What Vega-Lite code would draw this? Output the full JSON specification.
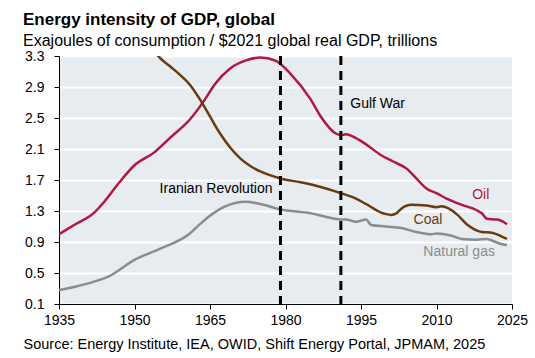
{
  "$schema": "https://vega.github.io/schema/vega-lite/v6.json",
  "autosize": {"type": "none"},
  "width": 453,
  "height": 248,
  "padding": {"left": 59, "top": 56, "right": 23, "bottom": 54},
  "background": "white",
  "config": {
    "font": "Liberation Sans",
    "view": {"fill": "#E6ECF0", "stroke": null},
    "axis": {"labelFont": "Liberation Sans", "labelFontSize": 14, "labelColor": "#000000", "domainColor": "#000000", "tickColor": "#000000", "tickSize": 5}
  },
  "title": {
    "text": "Energy intensity of GDP, global",
    "subtitle": "Exajoules of consumption / $2021 global real GDP, trillions",
    "anchor": "start",
    "frame": "group",
    "dx": -36,
    "offset": -1,
    "font": "Liberation Sans",
    "fontSize": 17,
    "fontWeight": "bold",
    "color": "#000000",
    "subtitleFont": "Liberation Sans",
    "subtitleFontSize": 16,
    "subtitleColor": "#000000",
    "subtitlePadding": 4
  },
  "datasets": {
    "series": [
      {"year": 1935, "value": 1.00, "fuel": "Oil"},
      {"year": 1938, "value": 1.12, "fuel": "Oil"},
      {"year": 1942, "value": 1.28, "fuel": "Oil"},
      {"year": 1944, "value": 1.42, "fuel": "Oil"},
      {"year": 1947, "value": 1.67, "fuel": "Oil"},
      {"year": 1950, "value": 1.89, "fuel": "Oil"},
      {"year": 1954, "value": 2.06, "fuel": "Oil"},
      {"year": 1957, "value": 2.24, "fuel": "Oil"},
      {"year": 1961, "value": 2.48, "fuel": "Oil"},
      {"year": 1964, "value": 2.74, "fuel": "Oil"},
      {"year": 1966, "value": 2.94, "fuel": "Oil"},
      {"year": 1969, "value": 3.14, "fuel": "Oil"},
      {"year": 1972, "value": 3.24, "fuel": "Oil"},
      {"year": 1975, "value": 3.28, "fuel": "Oil"},
      {"year": 1978, "value": 3.24, "fuel": "Oil"},
      {"year": 1981, "value": 3.07, "fuel": "Oil"},
      {"year": 1985, "value": 2.74, "fuel": "Oil"},
      {"year": 1987, "value": 2.52, "fuel": "Oil"},
      {"year": 1990, "value": 2.30, "fuel": "Oil"},
      {"year": 1991, "value": 2.28, "fuel": "Oil"},
      {"year": 1992, "value": 2.29, "fuel": "Oil"},
      {"year": 1994, "value": 2.24, "fuel": "Oil"},
      {"year": 1996, "value": 2.16, "fuel": "Oil"},
      {"year": 1999, "value": 2.02, "fuel": "Oil"},
      {"year": 2002, "value": 1.92, "fuel": "Oil"},
      {"year": 2004, "value": 1.85, "fuel": "Oil"},
      {"year": 2006, "value": 1.72, "fuel": "Oil"},
      {"year": 2008, "value": 1.59, "fuel": "Oil"},
      {"year": 2010, "value": 1.53, "fuel": "Oil"},
      {"year": 2012, "value": 1.46, "fuel": "Oil"},
      {"year": 2015, "value": 1.38, "fuel": "Oil"},
      {"year": 2018, "value": 1.31, "fuel": "Oil"},
      {"year": 2019, "value": 1.27, "fuel": "Oil"},
      {"year": 2020, "value": 1.20, "fuel": "Oil"},
      {"year": 2022, "value": 1.19, "fuel": "Oil"},
      {"year": 2023, "value": 1.17, "fuel": "Oil"},
      {"year": 2024, "value": 1.13, "fuel": "Oil"},
      {"year": 1950, "value": 3.85, "fuel": "Coal"},
      {"year": 1953, "value": 3.46, "fuel": "Coal"},
      {"year": 1955, "value": 3.28, "fuel": "Coal"},
      {"year": 1957, "value": 3.17, "fuel": "Coal"},
      {"year": 1959, "value": 3.06, "fuel": "Coal"},
      {"year": 1961, "value": 2.93, "fuel": "Coal"},
      {"year": 1963, "value": 2.74, "fuel": "Coal"},
      {"year": 1965, "value": 2.52, "fuel": "Coal"},
      {"year": 1967, "value": 2.30, "fuel": "Coal"},
      {"year": 1969, "value": 2.12, "fuel": "Coal"},
      {"year": 1971, "value": 1.98, "fuel": "Coal"},
      {"year": 1973, "value": 1.88, "fuel": "Coal"},
      {"year": 1975, "value": 1.81, "fuel": "Coal"},
      {"year": 1979, "value": 1.72, "fuel": "Coal"},
      {"year": 1983, "value": 1.67, "fuel": "Coal"},
      {"year": 1987, "value": 1.61, "fuel": "Coal"},
      {"year": 1991, "value": 1.53, "fuel": "Coal"},
      {"year": 1994, "value": 1.46, "fuel": "Coal"},
      {"year": 1996, "value": 1.39, "fuel": "Coal"},
      {"year": 1999, "value": 1.28, "fuel": "Coal"},
      {"year": 2000, "value": 1.26, "fuel": "Coal"},
      {"year": 2001, "value": 1.25, "fuel": "Coal"},
      {"year": 2002, "value": 1.27, "fuel": "Coal"},
      {"year": 2003, "value": 1.33, "fuel": "Coal"},
      {"year": 2005, "value": 1.38, "fuel": "Coal"},
      {"year": 2008, "value": 1.37, "fuel": "Coal"},
      {"year": 2010, "value": 1.35, "fuel": "Coal"},
      {"year": 2011, "value": 1.36, "fuel": "Coal"},
      {"year": 2014, "value": 1.26, "fuel": "Coal"},
      {"year": 2016, "value": 1.13, "fuel": "Coal"},
      {"year": 2019, "value": 1.03, "fuel": "Coal"},
      {"year": 2021, "value": 1.02, "fuel": "Coal"},
      {"year": 2023, "value": 0.97, "fuel": "Coal"},
      {"year": 2024, "value": 0.94, "fuel": "Coal"},
      {"year": 1935, "value": 0.28, "fuel": "Natural gas"},
      {"year": 1938, "value": 0.32, "fuel": "Natural gas"},
      {"year": 1941, "value": 0.37, "fuel": "Natural gas"},
      {"year": 1945, "value": 0.46, "fuel": "Natural gas"},
      {"year": 1950, "value": 0.67, "fuel": "Natural gas"},
      {"year": 1955, "value": 0.81, "fuel": "Natural gas"},
      {"year": 1961, "value": 1.01, "fuel": "Natural gas"},
      {"year": 1963, "value": 1.13, "fuel": "Natural gas"},
      {"year": 1965, "value": 1.24, "fuel": "Natural gas"},
      {"year": 1968, "value": 1.36, "fuel": "Natural gas"},
      {"year": 1972, "value": 1.42, "fuel": "Natural gas"},
      {"year": 1975, "value": 1.39, "fuel": "Natural gas"},
      {"year": 1979, "value": 1.32, "fuel": "Natural gas"},
      {"year": 1985, "value": 1.27, "fuel": "Natural gas"},
      {"year": 1989, "value": 1.21, "fuel": "Natural gas"},
      {"year": 1991, "value": 1.19, "fuel": "Natural gas"},
      {"year": 1992, "value": 1.19, "fuel": "Natural gas"},
      {"year": 1994, "value": 1.16, "fuel": "Natural gas"},
      {"year": 1996, "value": 1.19, "fuel": "Natural gas"},
      {"year": 1997, "value": 1.12, "fuel": "Natural gas"},
      {"year": 2000, "value": 1.10, "fuel": "Natural gas"},
      {"year": 2003, "value": 1.08, "fuel": "Natural gas"},
      {"year": 2006, "value": 1.03, "fuel": "Natural gas"},
      {"year": 2009, "value": 1.00, "fuel": "Natural gas"},
      {"year": 2010, "value": 1.01, "fuel": "Natural gas"},
      {"year": 2013, "value": 0.98, "fuel": "Natural gas"},
      {"year": 2015, "value": 0.94, "fuel": "Natural gas"},
      {"year": 2018, "value": 0.93, "fuel": "Natural gas"},
      {"year": 2020, "value": 0.94, "fuel": "Natural gas"},
      {"year": 2021, "value": 0.92, "fuel": "Natural gas"},
      {"year": 2023, "value": 0.87, "fuel": "Natural gas"},
      {"year": 2024, "value": 0.86, "fuel": "Natural gas"}
    ],
    "events": [
      {"year": 1979, "label": "Iranian Revolution", "labelYear": 1966.2, "labelValue": 1.59},
      {"year": 1991, "label": "Gulf War", "labelYear": 1998.3, "labelValue": 2.68}
    ],
    "seriesLabels": [
      {"fuel": "Oil", "year": 2018.8, "value": 1.51},
      {"fuel": "Coal", "year": 2008.3, "value": 1.19},
      {"fuel": "Natural gas", "year": 2014.5, "value": 0.765}
    ]
  },
  "layer": [
    {
      "data": {"name": "series"},
      "mark": {"type": "line", "strokeWidth": 2.5, "interpolate": "monotone", "clip": true},
      "encoding": {
        "x": {
          "field": "year", "type": "quantitative",
          "scale": {"domain": [1935, 2025], "nice": false, "zero": false},
          "axis": {
            "values": [1935, 1950, 1965, 1980, 1995, 2010, 2025], "tickCount": 10,
            "format": "d", "grid": false, "labelPadding": 4, "labelFlush": false, "labelOverlap": false,
            "title": "Source: Energy Institute, IEA, OWID, Shift Energy Portal, JPMAM, 2025",
            "titleFont": "Liberation Sans", "titleFontSize": 14.5, "titleFontWeight": "normal", "titleColor": "#000000",
            "titleAnchor": "start", "titleAlign": "left", "titleX": -36, "titleY": 44, "titleBaseline": "alphabetic"
          }
        },
        "y": {
          "field": "value", "type": "quantitative",
          "scale": {"domain": [0.1, 3.3], "nice": false, "zero": false},
          "axis": {
            "values": [0.1, 0.5, 0.9, 1.3, 1.7, 2.1, 2.5, 2.9, 3.3], "tickCount": 12,
            "format": ".1f", "title": null, "grid": true, "gridColor": "#FFFFFF", "gridWidth": 2,
            "labelPadding": 10, "labelFlush": false, "labelOverlap": false
          }
        },
        "color": {
          "field": "fuel", "type": "nominal",
          "scale": {"domain": ["Oil", "Coal", "Natural gas"], "range": ["#B3173F", "#6A3B0C", "#8C8C8C"]},
          "legend": null
        }
      }
    },
    {
      "data": {"name": "events"},
      "mark": {"type": "rule", "strokeWidth": 3, "strokeDash": [9, 6], "color": "#000000"},
      "encoding": {
        "x": {"field": "year", "type": "quantitative"}
      }
    },
    {
      "data": {"name": "events"},
      "mark": {"type": "text", "fontSize": 14, "color": "#000000", "align": "center", "baseline": "middle", "font": "Liberation Sans"},
      "encoding": {
        "x": {"field": "labelYear", "type": "quantitative"},
        "y": {"field": "labelValue", "type": "quantitative"},
        "text": {"field": "label"}
      }
    },
    {
      "data": {"name": "seriesLabels"},
      "mark": {"type": "text", "fontSize": 14, "align": "center", "baseline": "middle", "font": "Liberation Sans"},
      "encoding": {
        "x": {"field": "year", "type": "quantitative"},
        "y": {"field": "value", "type": "quantitative"},
        "text": {"field": "fuel"},
        "color": {"field": "fuel", "type": "nominal", "legend": null}
      }
    }
  ]
}
